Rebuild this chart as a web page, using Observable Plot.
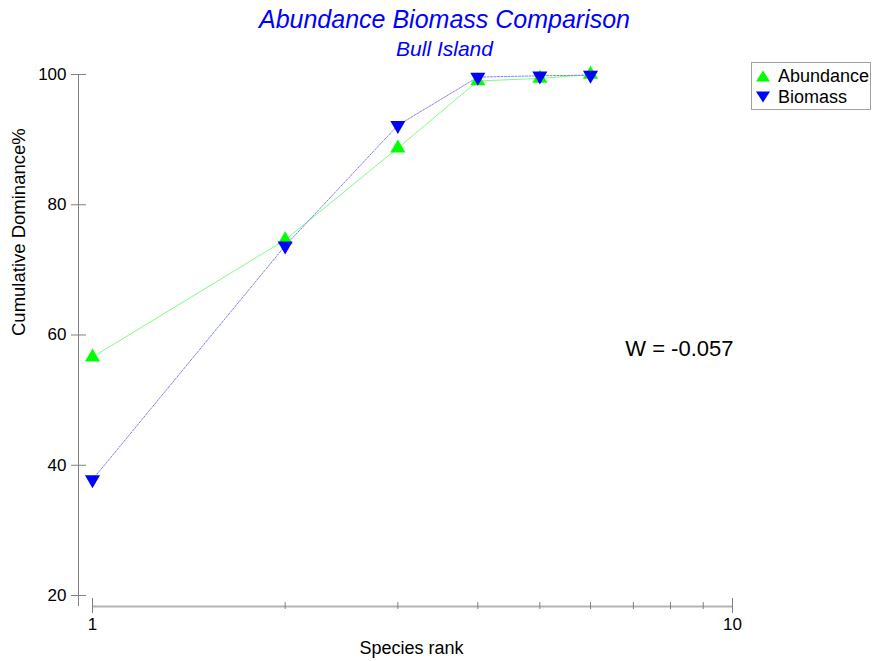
<!DOCTYPE html>
<html>
<head>
<meta charset="utf-8">
<script src="https://cdn.jsdelivr.net/npm/d3@7"></script>
<script src="https://cdn.jsdelivr.net/npm/@observablehq/plot@0.6"></script>
<style>
  html, body { margin: 0; padding: 0; background: #fff; }
  #chart { position: relative; width: 877px; height: 661px; font-family: "Liberation Sans", Arial, sans-serif; }
  #legend { position: absolute; left: 751px; top: 62px; }
</style>
</head>
<body>
<div id="chart"></div>
<script>
// Cumulative dominance (k-dominance) curves, Bull Island
const ranks = [1, 2, 3, 4, 5, 6];
const abundance = [56.6, 74.6, 88.7, 99.0, 99.4, 100];
const biomass = [37.8, 73.7, 92.2, 99.6, 99.8, 99.9];

const yTicks = [20, 40, 60, 80, 100];
const xMajorTicks = [1, 10];
const xMinorTicks = [2, 3, 4, 5, 6, 7, 8, 9];
const xDomain = [1, 10];
const yDomain = [20, 100];

const titleText = "Abundance Biomass Comparison";
const subtitleText = "Bull Island";
const xLabel = "Species rank";
const yLabel = "Cumulative Dominance%";
const wStatistic = "W = -0.057";
const seriesNames = ["Abundance", "Biomass"];

const abundanceData = ranks.map((r, i) => ({rank: r, value: abundance[i]}));
const biomassData = ranks.map((r, i) => ({rank: r, value: biomass[i]}));

const axisGray = "#808080";
const font = "Liberation Sans, Arial, sans-serif";

const chart = Plot.plot({
  width: 877,
  height: 661,
  marginLeft: 78,
  marginRight: 145,
  marginTop: 74,
  marginBottom: 55,
  style: {fontFamily: font, background: "white", color: "black", overflow: "visible"},
  x: {type: "log", domain: xDomain, insetLeft: 14, axis: null},
  y: {domain: yDomain, insetBottom: 11, axis: null},
  marks: [
    // vertical axis line, set off to the left of rank 1
    Plot.ruleX([xDomain[0]], {dx: -14, stroke: axisGray, strokeWidth: 1}),
    // y ticks crossing the axis line, with labels
    Plot.axisY(yTicks, {
      anchor: "left", tickSize: 15, dx: 8, tickPadding: 5,
      stroke: axisGray, fill: "black", fontSize: 17, label: null
    }),
    // horizontal axis line, set below the y = 20 level
    Plot.ruleY([yDomain[0]], {x1: xDomain[0], x2: xDomain[1], dy: 11, stroke: "#b4b4b4", strokeWidth: 2}),
    Plot.axisX(xMinorTicks, {
      anchor: "bottom", tickSize: 7, dy: -4, stroke: axisGray,
      tickFormat: () => "", label: null
    }),
    Plot.axisX(xMajorTicks, {
      anchor: "bottom", tickSize: 15, dy: -8, tickPadding: 4,
      stroke: axisGray, fill: "black", fontSize: 17, label: null,
      tickFormat: d => String(d)
    }),
    // series lines
    Plot.line(abundanceData, {x: "rank", y: "value", stroke: "#7dff7d", strokeWidth: 1}),
    Plot.line(biomassData, {x: "rank", y: "value", stroke: "#7d7dff", strokeWidth: 1, strokeDasharray: "2,1.5"}),
    // markers
    Plot.dot(abundanceData, {x: "rank", y: "value", symbol: "triangle", r: 5.6, fill: "#00ff00", stroke: "none"}),
    Plot.dot(biomassData, {x: "rank", y: "value", symbol: "triangle", rotate: 180, r: 5.6, fill: "#0000ff", stroke: "none"}),
    // titles
    Plot.text([titleText], {frameAnchor: "top", dx: 39, dy: -55, lineAnchor: "middle", fontSize: 25, fontStyle: "italic", fill: "#0000ff"}),
    Plot.text([subtitleText], {frameAnchor: "top", dx: 39, dy: -25, lineAnchor: "middle", fontSize: 21, fontStyle: "italic", fill: "#0000ff"}),
    // axis titles
    Plot.text([yLabel], {frameAnchor: "left", rotate: -90, dx: -59, dy: -4.5, lineAnchor: "middle", fontSize: 18.5, fill: "black"}),
    Plot.text([xLabel], {frameAnchor: "bottom", dx: 6, dy: 42, lineAnchor: "middle", fontSize: 18, fill: "black"}),
    // W statistic
    Plot.text([wStatistic], {frameAnchor: "right", dx: 1, dy: 8, textAnchor: "end", lineAnchor: "middle", fontSize: 22, fill: "black"})
  ]
});

const container = document.getElementById("chart");
container.appendChild(chart);

// legend box
const legend = d3.select(container).append("svg")
  .attr("id", "legend")
  .attr("width", 121)
  .attr("height", 49);
legend.append("rect")
  .attr("x", 0.5).attr("y", 0.5).attr("width", 119).attr("height", 47)
  .attr("fill", "white").attr("stroke", "#a0a0a0");
const legendColors = ["#00ff00", "#0000ff"];
seriesNames.forEach((name, i) => {
  const cy = 14 + i * 21;
  const tri = i === 0
    ? `M12,${cy - 5.5} L19,${cy + 5.5} L5,${cy + 5.5} Z`
    : `M5,${cy - 5.5} L19,${cy - 5.5} L12,${cy + 5.5} Z`;
  legend.append("path").attr("d", tri).attr("fill", legendColors[i]);
  legend.append("text")
    .attr("x", 27).attr("y", cy + 6)
    .attr("font-family", font).attr("font-size", 18)
    .attr("fill", "black")
    .text(name);
});
</script>
</body>
</html>
